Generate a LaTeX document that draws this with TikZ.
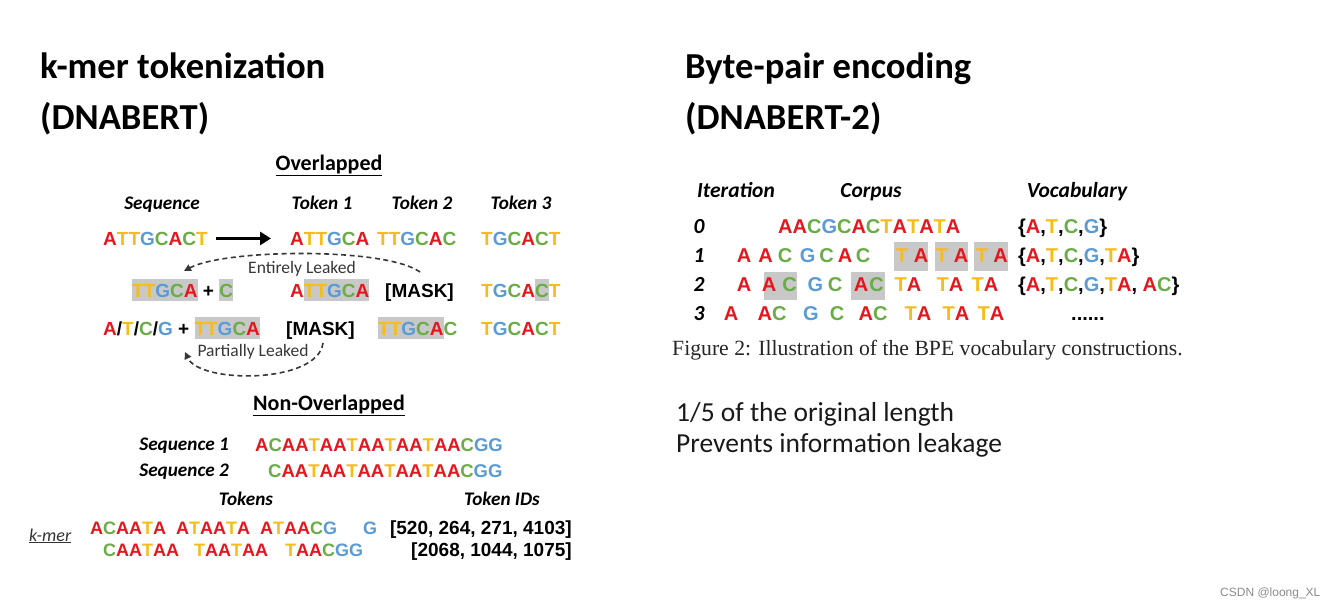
\documentclass[tikz,border=0pt]{standalone}
\usepackage{fontspec}
\setmainfont{Carlito}
\newfontfamily\arialfont{Liberation Sans}
\newfontfamily\timesfont{Liberation Serif}
\usetikzlibrary{arrows.meta}

\definecolor{dnaA}{RGB}{230,22,28}
\definecolor{dnaT}{RGB}{247,188,28}
\definecolor{dnaC}{RGB}{106,172,70}
\definecolor{dnaG}{RGB}{91,155,213}
\definecolor{hlgray}{RGB}{200,200,200}
\definecolor{leakgray}{RGB}{55,55,55}

\newcommand\dnachar[1]{\if#1A\textcolor{dnaA}{A}\else\if#1T\textcolor{dnaT}{T}\else\if#1C\textcolor{dnaC}{C}\else\if#1G\textcolor{dnaG}{G}\else#1\fi\fi\fi\fi}
\def\dna#1{\dnaloop#1\relax}
\def\dnaloop#1{\ifx\relax#1\else\dnachar{#1}\expandafter\dnaloop\fi}
\newcommand\hlbox[1]{{\setlength{\fboxsep}{0pt}\colorbox{hlgray}{\vrule width 0pt height 18pt depth 3.5pt\dna{#1}}}}

\tikzset{
	title/.style={font=\fontsize{36.6}{40}\selectfont\bfseries, anchor=base west, inner sep=0},
	section/.style={font=\fontsize{22}{26}\selectfont\bfseries, anchor=base, inner sep=0},
	head/.style={font=\fontsize{19.2}{22}\selectfont\bfseries\itshape, anchor=base, inner sep=0},
	bhead/.style={font=\fontsize{21.5}{25}\selectfont\bfseries\itshape, anchor=base, inner sep=0},
	letters/.style={font=\arialfont\fontsize{19}{22}\selectfont\bfseries, anchor=base west, inner sep=0},
	nletters/.style={font=\arialfont\fontsize{18}{22}\selectfont\bfseries, anchor=base west, inner sep=0},
	bpe/.style={font=\arialfont\fontsize{20}{24}\selectfont\bfseries, anchor=base, inner sep=0},
	leaklabel/.style={font=\fontsize{17.5}{20}\selectfont, text=leakgray, anchor=base, inner sep=0},
	leak/.style={leakgray, line width=1.6pt, dash pattern=on 5pt off 3.5pt, -{Triangle[length=7pt,width=7pt]}},
	bigarrow/.style={line width=3.5pt, -{Triangle[length=11pt,width=13pt]}},
	note/.style={font=\fontsize{27.5}{32}\selectfont, text=black!90, anchor=base west, inner sep=0}
}

\begin{document}
\begin{tikzpicture}[x=1pt, y=-1pt]
	%%%%% START %%%%%
	\fill[white] (0,0) rectangle (1341,610);
	\useasboundingbox (0,0) rectangle (1341,610);
	
	\node[title] (t1a) at (40,78) {k-mer tokenization};
	\node[title] (t1b) at (40,129) {(DNABERT)};
	\node[title] (t2a) at (685,78) {Byte-pair encoding};
	\node[title] (t2b) at (685,129) {(DNABERT-2)};
	
	\node[section] (ovl) at (329,170) {\underline{Overlapped}};
	\node[head] (hseq) at (162,209) {Sequence};
	\node[head] (htk1) at (322,209) {Token 1};
	\node[head] (htk2) at (422,209) {Token 2};
	\node[head] (htk3) at (521,209) {Token 3};
	
	\node[letters] (seq) at (103,245) {\dna{ATTGCACT}};
	\node[letters] (r1k1) at (290,245) {\dna{ATTGCA}};
	\node[letters] (r1k2) at (377,245) {\dna{TTGCAC}};
	\node[letters] (r1k3) at (481,245) {\dna{TGCACT}};
	\draw[bigarrow] ([xshift=8pt]seq.east) -- ([xshift=-19pt]r1k1.west);
	
	\node[letters] (r2s) at (132,297) {\hlbox{TTGCA} + \hlbox{C}};
	\node[letters] (r2k1) at (290,297) {\dna{A}\hlbox{TTGCA}};
	\node[letters] (r2k2) at (385,297) {[MASK]};
	\node[letters] (r2k3) at (481,297) {\dna{TGCA}\hlbox{C}\dna{T}};
	
	\node[letters] (r3s) at (103,335) {\dna{A/T/C/G} + \hlbox{TTGCA}};
	\node[letters] (r3k1) at (286,335) {[MASK]};
	\node[letters] (r3k2) at (378,335) {\hlbox{TTGCA}\dna{C}};
	\node[letters] (r3k3) at (481,335) {\dna{TGCACT}};
	
	\coordinate (entS) at (420,272);
	\coordinate (entE) at (184,271);
	\draw[leak] (entS) .. controls (385,247) and (225,249) .. (entE);
	\node[leaklabel] (ent) at (302,273) {Entirely Leaked};
	
	\coordinate (parS) at (323,343);
	\coordinate (parE) at (185,352);
	\draw[leak] (parS) .. controls (318,384) and (200,384) .. (parE);
	\node[leaklabel] (par) at (253,356) {Partially Leaked};
	
	\node[section] (novl) at (329,410) {\underline{Non-Overlapped}};
	\node[head, anchor=base east] (hs1) at (229,450) {Sequence 1};
	\node[head, anchor=base east] (hs2) at (229,476) {Sequence 2};
	\node[nletters, font=\arialfont\fontsize{18.5}{22}\selectfont\bfseries] (s1) at (255,451) {\dna{ACAATAATAATAATAACGG}};
	\node[nletters, font=\arialfont\fontsize{18.5}{22}\selectfont\bfseries] (s2) at (268,477) {\dna{CAATAATAATAATAACGG}};
	
	\node[head] (htok) at (246,505) {Tokens};
	\node[head] (hids) at (502,505) {Token IDs};
	\node[font=\fontsize{18}{22}\selectfont\itshape, text=black!80, anchor=base west, inner sep=0] (kmer) at (29,541) {\underline{k-mer}};
	
	\node[nletters] (k1a) at (90,534) {\dna{ACAATA}};
	\node[nletters] (k1b) at (176,534) {\dna{ATAATA}};
	\node[nletters] (k1c) at (260,534) {\dna{ATAACG}};
	\node[nletters] (k1d) at (363,534) {\dna{G}};
	\node[letters, anchor=base east] (id1) at (572,534) {[520, 264, 271, 4103]};
	\node[nletters] (k2a) at (103,556) {\dna{CAATAA}};
	\node[nletters] (k2b) at (194,556) {\dna{TAATAA}};
	\node[nletters] (k2c) at (285,556) {\dna{TAACGG}};
	\node[letters, anchor=base east] (id2) at (572,556) {[2068, 1044, 1075]};
	
	% BPE
	\node[bhead] (hit) at (736,197) {Iteration};
	\node[bhead] (hcor) at (871,197) {Corpus};
	\node[bhead] (hvoc) at (1077,197) {Vocabulary};
	
	\fill[hlgray] (894,242) rectangle (927.6,271);
	\fill[hlgray] (934.5,242) rectangle (968,271);
	\fill[hlgray] (974,242) rectangle (1007.6,271);
	\fill[hlgray] (764,272) rectangle (797,300);
	\fill[hlgray] (851,272) rectangle (885,300);
	
	\foreach \i/\yb in {0/233,1/262,2/291,3/320}
		\node[bhead] (it\i) at (699,\yb) {\i};
	
	\node[bpe, anchor=base west] (c0) at (778,233) {\dna{AACGCACTATATA}};
	\foreach \x/\b [count=\n] in {744/A,765.5/A,785/C,807.6/G,826.6/C,845/A,863/C,902/T,921/A,942/T,961/A,982/T,1000.7/A}
		\node[bpe] (c1-\n) at (\x,262) {\expandafter\dna\expandafter{\b}};
	\foreach \x/\b [count=\n] in {744/A,769/A,789.6/C,815.5/G,835/C,861/A,876.6/C,908/TA,950/TA,985/TA}
		\node[bpe] (c2-\n) at (\x,291) {\expandafter\dna\expandafter{\b}};
	\foreach \x/\b [count=\n] in {731/A,772/AC,811/G,837/C,873/AC,918/TA,956/TA,991/TA}
		\node[bpe] (c3-\n) at (\x,320) {\expandafter\dna\expandafter{\b}};
	
	\node[bpe, anchor=base west] (v0) at (1018,233) {\{\dna{A,T,C,G}\}};
	\node[bpe, anchor=base west] (v1) at (1018,262) {\{\dna{A,T,C,G,TA}\}};
	\node[bpe, anchor=base west] (v2) at (1018,291) {\{\dna{A,T,C,G,TA,} \dna{AC}\}};
	\node[bpe, anchor=base west] (v3) at (1071,320) {......};
	
	\node[font=\timesfont\fontsize{21.7}{26}\selectfont, text=black!85, anchor=base west, inner sep=0] (cap) at (672,355) {Figure 2: Illustration of the BPE vocabulary constructions.};
	
	\node[note] (n1) at (676,421) {1/5 of the original length};
	\node[note] (n2) at (676,452) {Prevents information leakage};
	
	\node[font=\arialfont\fontsize{12}{14}\selectfont, text=black!45, anchor=base west, inner sep=0] (wm) at (1220,596) {CSDN @loong\_XL};
	%%%%% END %%%%%
\end{tikzpicture}
\end{document}
